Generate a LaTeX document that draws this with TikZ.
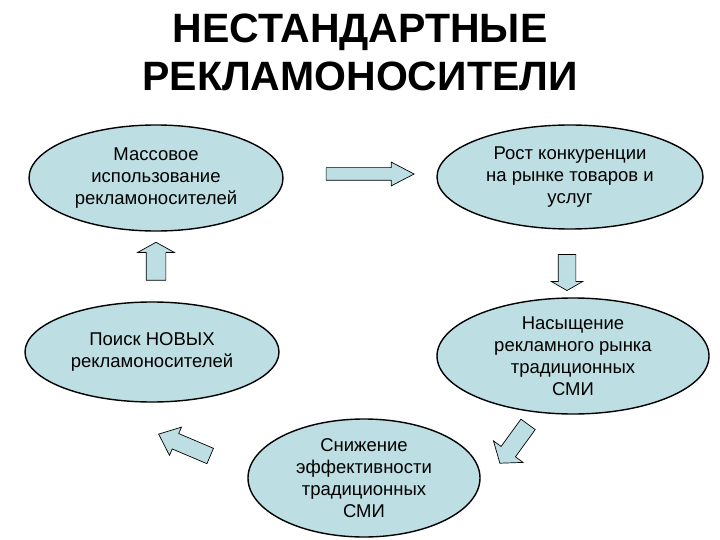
\documentclass[tikz,border=0pt]{standalone}
\usepackage{fontspec}
\setmainfont{Liberation Sans}
\usetikzlibrary{shapes.geometric, shapes.arrows}
\definecolor{stagefill}{RGB}{189, 222, 226}

\begin{document}
\begin{tikzpicture}[x=1pt, y=-1pt,
    stage/.style={ellipse, draw=black, line width=1.4pt, fill=stagefill,
                  inner sep=0pt, align=center, font=\fontsize{18.5}{22}\selectfont},
    flow/.style={single arrow, draw=black, line width=0.7pt, fill=stagefill,
                 inner xsep=0pt}
]
    \useasboundingbox (0,0) rectangle (720,540);

    % title
    \node[font=\fontsize{41}{48}\selectfont\bfseries, align=center] (title) at (360,52)
        {НЕСТАНДАРТНЫЕ\\РЕКЛАМОНОСИТЕЛИ};

    % stages of the cycle
    \node[stage, minimum width=254pt, minimum height=106pt] (mass) at (156,178)
        {Массовое\\использование\\рекламоносителей};
    \node[stage, minimum width=266pt, minimum height=104pt] (rivalry) at (570,177)
        {Рост конкуренции\\на рынке товаров и\\услуг};
    \node[stage, minimum width=254pt, minimum height=100pt] (search) at (152,352)
        {Поиск НОВЫХ\\рекламоносителей};
    \node[stage, minimum width=272pt, minimum height=116pt] (saturation) at (573,356)
        {Насыщение\\рекламного рынка\\традиционных\\СМИ};
    \node[stage, minimum width=232pt, minimum height=118pt] (decline) at (364,478)
        {Снижение\\эффективности\\традиционных\\СМИ};

    % block arrows between the stages
    \node[flow, minimum height=88pt, inner ysep=6pt, single arrow head extend=5.5pt,
          single arrow tip angle=55] (toRivalry) at (364,174) {};
    \node[flow, minimum height=36pt, inner ysep=8.5pt, single arrow head extend=7pt,
          single arrow tip angle=120, rotate=270] (toSaturation) at (567,270) {};
    \node[flow, minimum height=48pt, inner ysep=8.5pt, single arrow head extend=9.5pt,
          single arrow tip angle=104, rotate=234] (toDecline) at (516,441) {};
    \node[flow, minimum height=56pt, inner ysep=8pt, single arrow head extend=7pt,
          single arrow tip angle=80, rotate=157] (toSearch) at (189,447) {};
    \node[flow, minimum height=38pt, inner ysep=9.5pt, single arrow head extend=8.5pt,
          single arrow tip angle=122, rotate=90] (toMass) at (156,264) {};
\end{tikzpicture}
\end{document}
